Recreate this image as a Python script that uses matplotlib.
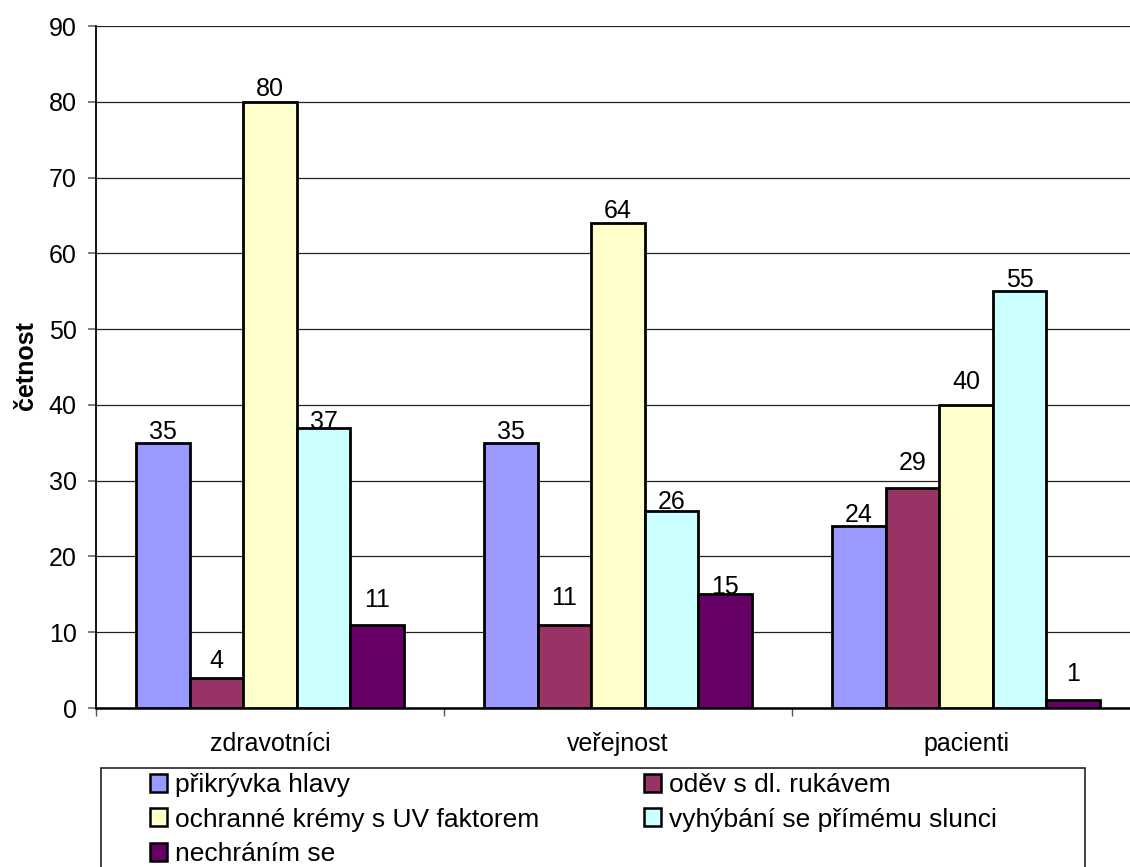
import matplotlib
matplotlib.use("Agg")
import matplotlib.pyplot as plt
from matplotlib.patches import Rectangle, Patch
import numpy as np

plt.rcParams['font.family'] = ['Liberation Sans', 'DejaVu Sans']

categories = ["zdravotníci", "veřejnost", "pacienti"]
series_names = [
    "přikrývka hlavy",
    "oděv s dl. rukávem",
    "ochranné krémy s UV faktorem",
    "vyhýbání se přímému slunci",
    "nechráním se",
]
prikryvka = [35, 35, 24]
odev = [4, 11, 29]
kremy = [80, 64, 40]
vyhybani = [37, 26, 55]
nechranim = [11, 15, 1]
series_values = [prikryvka, odev, kremy, vyhybani, nechranim]
y_ticks = [0, 10, 20, 30, 40, 50, 60, 70, 80, 90]

colors = ["#9999FF", "#993366", "#FFFFCC", "#CCFFFF", "#660066"]
# gap (px) between bar top and label baseline, per series / category
label_gap_px = [
    [4, 4, 4],
    [10, 20, 18],
    [6, 5, 16],
    [-1, 2, 4],
    [18, 0, 19],
]

W, H = 1130, 867
fig = plt.figure(figsize=(W / 100, H / 100), dpi=100)
ax = fig.add_axes([96 / W, 159 / H, 1044 / W, 682 / H])

n = len(series_values)
bw = 1 / (n + 1.5)
x = np.arange(len(categories))
fs = 18

for k, (vals, col) in enumerate(zip(series_values, colors)):
    pos = x + (k - (n - 1) / 2) * bw
    ax.bar(pos, vals, width=bw, color=col, edgecolor="black",
           linewidth=2.0, zorder=3)
    for i, (p, v) in enumerate(zip(pos, vals)):
        ax.annotate(str(v), (p, v), xytext=(0, label_gap_px[k][i] * 0.72),
                    textcoords="offset points", ha="center", va="baseline",
                    fontsize=fs, zorder=4)

ax.set_xlim(-0.5, len(categories) - 0.5)
ax.set_ylim(0, 90)
ax.set_yticks(y_ticks)
ax.yaxis.grid(True, color="#222222", linewidth=0.9, zorder=0)
ax.set_axisbelow(True)

ax.set_xticks(x)
ax.set_xticklabels(categories, fontsize=fs)
ax.set_xticks(np.arange(len(categories) + 1) - 0.5, minor=True)
ax.tick_params(axis="x", which="major", length=0, pad=17)
ax.tick_params(axis="x", which="minor", length=6, width=1, color="#555555",
               direction="out")
ax.tick_params(axis="y", length=6, width=1.2, color="#666666", pad=8,
               labelsize=fs, direction="out")

for s in ["top", "right"]:
    ax.spines[s].set_visible(False)
ax.spines["left"].set_linewidth(1.3)
ax.spines["bottom"].set_linewidth(1.8)

fig.text(26 / W, 1 - 366 / H, "četnost", rotation=90, ha="center",
         va="center", fontsize=fs, fontweight="bold")

# legend frame
fig.patches.append(Rectangle((101 / W, -0.02), 984 / W, 0.02 + 1 - 768 / H,
                             transform=fig.transFigure, fill=False,
                             edgecolor="#222222", linewidth=1.2))
handles = [Patch(facecolor=c, edgecolor="black", linewidth=1.8) for c in colors]
# two columns filled row by row
order = [0, 2, 4, 1, 3]
fig.legend([handles[i] for i in order], [series_names[i] for i in order],
           loc="upper left", bbox_to_anchor=(150 / W, 1 - 773 / H), ncol=2,
           frameon=False, fontsize=19, handlelength=0.65, handleheight=0.65,
           handletextpad=0.3, columnspacing=3.95, labelspacing=0.4,
           borderpad=0, borderaxespad=0)

fig.savefig("out.png", dpi=100)
